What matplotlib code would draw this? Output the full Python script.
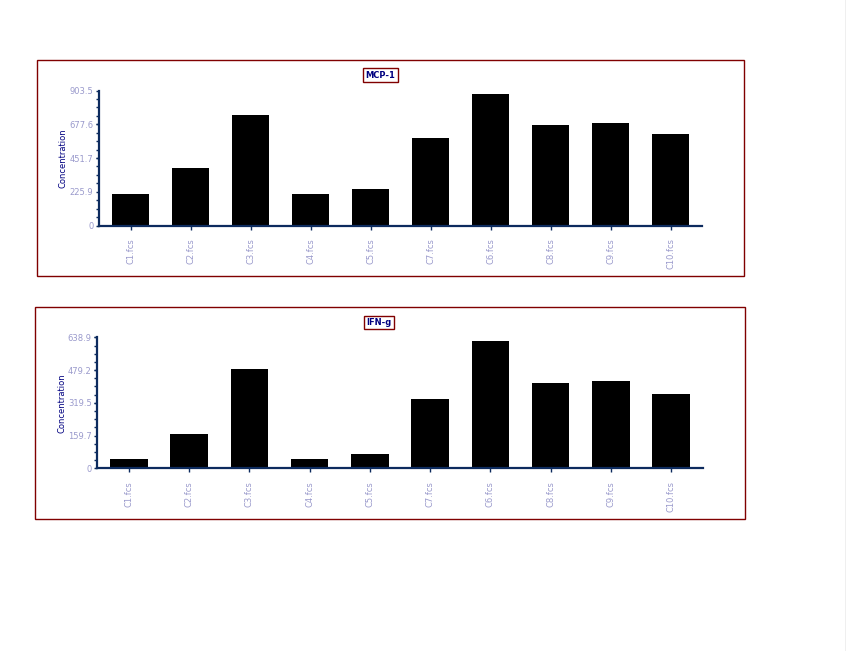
import numpy as np
import matplotlib
matplotlib.use('Agg')
import matplotlib.pyplot as plt
from matplotlib.patches import Rectangle
from matplotlib.ticker import AutoMinorLocator

# data
samples = ['C1.fcs', 'C2.fcs', 'C3.fcs', 'C4.fcs', 'C5.fcs',
           'C7.fcs', 'C6.fcs', 'C8.fcs', 'C9.fcs', 'C10.fcs']
mcp1 = [211, 385, 739, 211, 244, 585, 880, 672, 686, 612]
ifng = [45, 167, 484, 45, 70, 338, 621, 416, 426, 362]
mcp1_ticks = [0, 225.9, 451.7, 677.6, 903.5]
ifng_ticks = [0, 159.7, 319.5, 479.2, 638.9]

W, H = 846, 651
navy = '#0d2b5e'
label_col = '#9a9acc'
border_col = '#800000'


def fx(px):
    return px / W


def fy(py):
    return 1 - py / H


def panel(fig, box, ax_box, title_xy, title, values, ticks):
    # outer red frame
    x0, y0, x1, y1 = box
    fig.patches.append(Rectangle((fx(x0), fy(y1)), fx(x1 - x0), (y1 - y0) / H,
                                 transform=fig.transFigure, fill=False,
                                 edgecolor=border_col, linewidth=1.0))
    l, t, r, b = ax_box
    ax = fig.add_axes([fx(l), fy(b), fx(r - l), (b - t) / H])
    x = np.arange(len(samples))
    ax.bar(x, values, width=0.62, color='black')
    ax.set_xlim(-0.525, len(samples) - 0.475)
    ax.set_ylim(0, ticks[-1])
    ax.set_yticks(ticks)
    ax.set_yticklabels(['0' if v == 0 else '%.1f' % v for v in ticks])
    ax.yaxis.set_minor_locator(AutoMinorLocator(4))
    ax.set_xticks(x)
    ax.set_xticklabels(samples, rotation=90)
    for s in ['top', 'right']:
        ax.spines[s].set_visible(False)
    for s in ['left', 'bottom']:
        ax.spines[s].set_color(navy)
        ax.spines[s].set_linewidth(1.6)
    ax.tick_params(axis='both', colors=navy, labelcolor=label_col, labelsize=6)
    ax.tick_params(axis='y', which='major', length=2, width=1, pad=2)
    ax.tick_params(axis='y', which='minor', length=2, width=1, color=navy)
    ax.tick_params(axis='x', length=3, width=1, pad=6)
    ax.set_ylabel('Concentration', color='#000080', fontsize=6, labelpad=1)
    fig.text(fx(title_xy[0]), fy(title_xy[1]), title, ha='center', va='center',
             fontsize=6, fontweight='bold', color='#000080',
             bbox=dict(boxstyle='square,pad=0.25', facecolor='white',
                       edgecolor=border_col, linewidth=1.0))
    return ax


fig = plt.figure(figsize=(W / 100, H / 100), dpi=100)
fig.patch.set_facecolor('white')

panel(fig, (37, 60, 744, 276), (99, 90.5, 702, 225.5), (380.5, 75), 'MCP-1',
      mcp1, mcp1_ticks)
panel(fig, (35, 307, 745, 519), (97.3, 337.3, 702.7, 468.3), (379, 322.5), 'IFN-g',
      ifng, ifng_ticks)

# grey edge at the right of the page
fig.lines.append(plt.Line2D([fx(845.5), fx(845.5)], [0, 1], transform=fig.transFigure,
                            color='#b0b0b0', linewidth=1.0))

fig.savefig('out.png', dpi=100)
